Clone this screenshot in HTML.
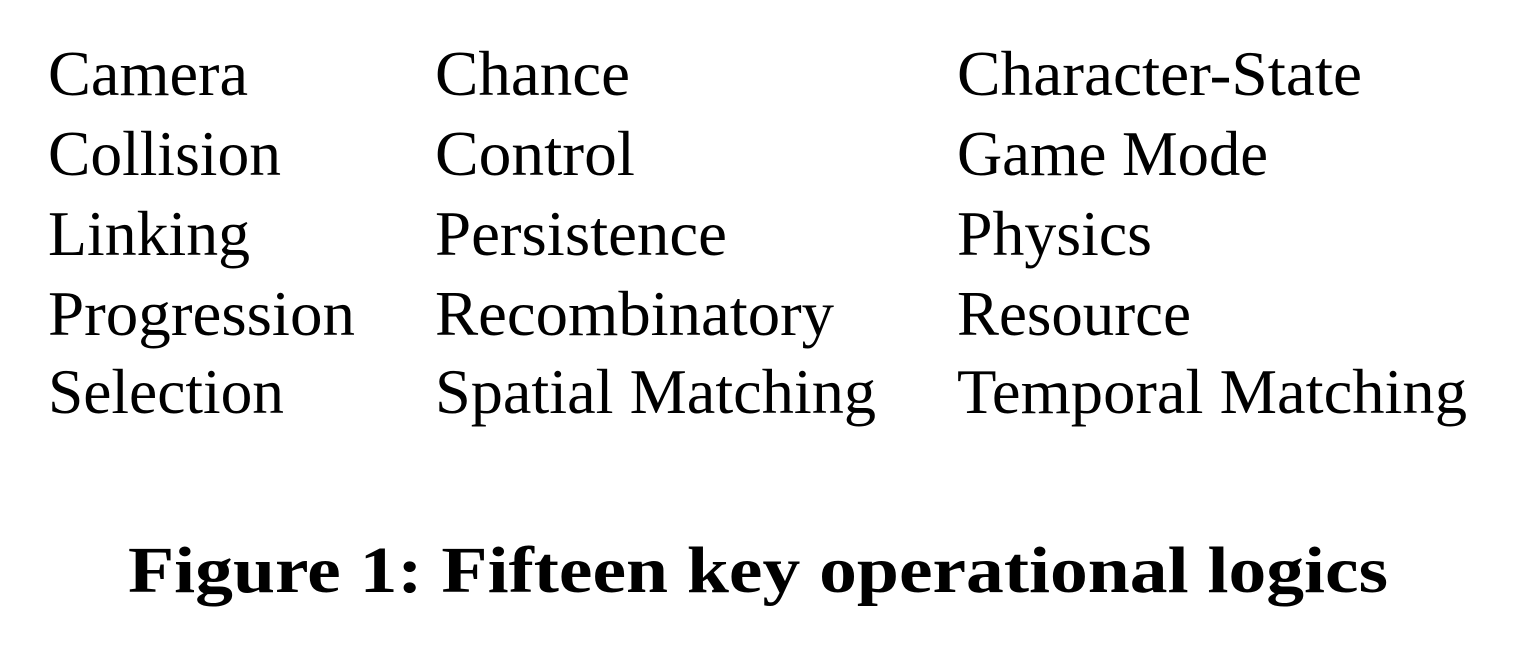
<!DOCTYPE html>
<html><head><style>
html,body{margin:0;padding:0;background:#fff;}
svg{display:block;}
text{font-family:"Liberation Serif",serif;fill:#000;}
</style></head><body>
<svg width="1520" height="650" xmlns="http://www.w3.org/2000/svg">
<g font-size="63">
<text x="48" y="95" textLength="200" lengthAdjust="spacingAndGlyphs">Camera</text>
<text x="435" y="95" textLength="195" lengthAdjust="spacingAndGlyphs">Chance</text>
<text x="957" y="95" textLength="405" lengthAdjust="spacingAndGlyphs">Character-State</text>
<text x="48" y="175" textLength="233" lengthAdjust="spacingAndGlyphs">Collision</text>
<text x="435" y="175" textLength="200" lengthAdjust="spacingAndGlyphs">Control</text>
<text x="957" y="175" textLength="311" lengthAdjust="spacingAndGlyphs">Game Mode</text>
<text x="48" y="255" textLength="202" lengthAdjust="spacingAndGlyphs">Linking</text>
<text x="435" y="255" textLength="292" lengthAdjust="spacingAndGlyphs">Persistence</text>
<text x="957" y="255" textLength="195" lengthAdjust="spacingAndGlyphs">Physics</text>
<text x="48" y="335" textLength="307" lengthAdjust="spacingAndGlyphs">Progression</text>
<text x="435" y="335" textLength="399" lengthAdjust="spacingAndGlyphs">Recombinatory</text>
<text x="957" y="335" textLength="234" lengthAdjust="spacingAndGlyphs">Resource</text>
<text x="48" y="413" textLength="236" lengthAdjust="spacingAndGlyphs">Selection</text>
<text x="435" y="413" textLength="441" lengthAdjust="spacingAndGlyphs">Spatial Matching</text>
<text x="957" y="413" textLength="510" lengthAdjust="spacingAndGlyphs">Temporal Matching</text>
</g>
<text x="128" y="592" font-size="66" font-weight="bold" textLength="1260" lengthAdjust="spacingAndGlyphs">Figure 1: Fifteen key operational logics</text>
</svg>
</body></html>
